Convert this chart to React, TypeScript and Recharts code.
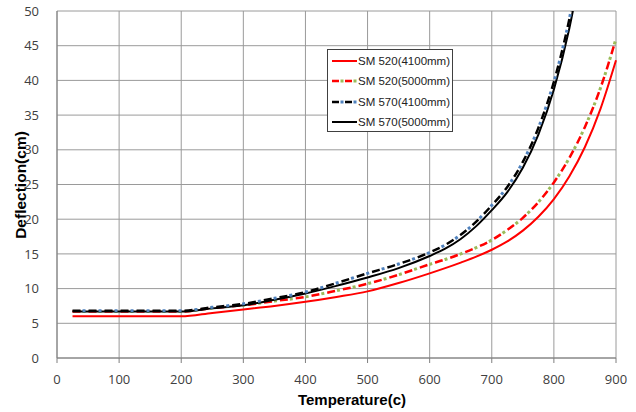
import React from 'react';
import { LineChart, Line, XAxis, YAxis, CartesianGrid } from 'recharts';

// Temperature (°C) vs deflection (cm).
const tempsSM520 = [25, 100, 200, 250, 300, 350, 400, 450, 500, 550, 600, 625, 650, 675, 700, 725, 750, 775, 800, 825, 850, 875, 900];
const sm520_4100 = [6.0, 6.0, 6.0, 6.5, 7.0, 7.5, 8.1, 8.8, 9.6, 10.8, 12.2, 12.95, 13.75, 14.6, 15.6, 16.8, 18.35, 20.35, 22.9, 26.2, 30.4, 35.9, 42.9];
const sm520_5000 = [6.7, 6.7, 6.7, 7.2, 7.6, 8.2, 8.8, 9.7, 10.7, 12.0, 13.5, 14.2, 15.0, 15.9, 17.0, 18.45, 20.2, 22.45, 25.3, 28.85, 33.3, 38.9, 46.0];

const tempsSM570 = [25, 100, 200, 250, 300, 350, 400, 450, 500, 550, 600, 625, 650, 675, 700, 725, 750, 775, 800, 825, 850];
const sm570_4100 = [6.8, 6.8, 6.8, 7.3, 7.8, 8.6, 9.5, 10.8, 12.2, 13.55, 15.2, 16.3, 17.75, 19.65, 22.0, 24.65, 28.25, 33.15, 39.8, 48.9, 61.2];
const sm570_5000 = [6.7, 6.7, 6.7, 7.15, 7.6, 8.4, 9.3, 10.4, 11.6, 12.95, 14.7, 15.75, 17.15, 19.0, 21.3, 23.9, 27.4, 32.2, 38.7, 47.55, 59.6];

const xTicks = [0, 100, 200, 300, 400, 500, 600, 700, 800, 900];
const yTicks = [0, 5, 10, 15, 20, 25, 30, 35, 40, 45, 50];

const toPoints = (xs: number[], ys: number[]) => xs.map((t, i) => ({ t, v: ys[i] }));

const d1 = toPoints(tempsSM520, sm520_4100);
const d2 = toPoints(tempsSM520, sm520_5000);
const d3 = toPoints(tempsSM570, sm570_4100);
const d4 = toPoints(tempsSM570, sm570_5000);

const RED = '#ff0000';
const OLIVE = '#9bbb59';
const STEEL = '#4f81bd';
const BLACK = '#000000';

const legendItems = [
  { name: 'SM 520(4100mm)', main: RED, accent: null as string | null },
  { name: 'SM 520(5000mm)', main: RED, accent: OLIVE },
  { name: 'SM 570(4100mm)', main: BLACK, accent: STEEL },
  { name: 'SM 570(5000mm)', main: BLACK, accent: null as string | null },
];

const tickStyle = { fontSize: 13, fill: '#404040', fontFamily: '"Open Sans", "Noto Sans", sans-serif' };

function LegendBox() {
  return (
    <div
      style={{
        position: 'absolute',
        left: 327,
        top: 49,
        width: 124,
        height: 81,
        background: '#fff',
        border: '1px solid #404040',
        fontFamily: '"Liberation Sans", Arial, sans-serif',
        fontSize: 11.5,
        color: '#222',
      }}
    >
      {legendItems.map((it, i) => (
        <div key={it.name} style={{ position: 'absolute', left: 4, top: 1 + i * 20.3, height: 20, display: 'flex', alignItems: 'center' }}>
          <svg width={25} height={6} style={{ marginRight: 1 }}>
            {it.accent ? (
              <>
                <line x1={0} y1={3} x2={25} y2={3} stroke={it.main} strokeWidth={2.5} strokeDasharray="7 6" />
                <line x1={0} y1={3} x2={25} y2={3} stroke={it.accent} strokeWidth={3} strokeDasharray="0 8.5 3 1.5" />
              </>
            ) : (
              <line x1={0} y1={3} x2={25} y2={3} stroke={it.main} strokeWidth={2} />
            )}
          </svg>
          <span style={{ whiteSpace: 'nowrap' }}>{it.name}</span>
        </div>
      ))}
    </div>
  );
}

export default function App() {
  return (
    <div style={{ position: 'absolute', left: 0, top: 0, width: 636, height: 412, background: '#fff' }}>
      <LineChart width={636} height={412} margin={{ top: 11, right: 20, bottom: 0, left: 0 }}>
        <CartesianGrid stroke="#9a9a9a" strokeWidth={1} />
        <XAxis
          type="number"
          dataKey="t"
          domain={[0, 900]}
          ticks={xTicks}
          interval={0}
          height={54}
          tick={tickStyle}
          tickSize={5}
          tickMargin={12}
          stroke="#7f7f7f"
          label={{
            content: () => (
              <text x={352} y={405} textAnchor="middle" fontSize={15} fontWeight="bold" fill="#000" fontFamily='"Liberation Sans", Arial, sans-serif'>
                Temperature(c)
              </text>
            ),
          }}
        />
        <YAxis
          type="number"
          domain={[0, 50]}
          ticks={yTicks}
          interval={0}
          allowDataOverflow
          width={57}
          tick={tickStyle}
          tickLine={false}
          tickMargin={12}
          stroke="#7f7f7f"
          label={{
            content: () => (
              <text
                x={26}
                y={185}
                transform="rotate(-90 26 185)"
                textAnchor="middle"
                fontSize={15.5}
                fontWeight="bold"
                fill="#000"
                fontFamily='"Liberation Sans", Arial, sans-serif'
              >
                Deflection(cm)
              </text>
            ),
          }}
        />
        <Line data={d1} dataKey="v" name="SM 520(4100mm)" type="monotone" stroke={RED} strokeWidth={2} dot={false} isAnimationActive={false} />
        <Line data={d2} dataKey="v" name="SM 520(5000mm)" type="monotone" stroke={RED} strokeWidth={2.5} strokeDasharray="8 8" dot={false} isAnimationActive={false} />
        <Line data={d2} dataKey="v" name="SM 520(5000mm) dots" legendType="none" type="monotone" stroke={OLIVE} strokeWidth={3} strokeDasharray="0 10 3 3" dot={false} isAnimationActive={false} />
        <Line data={d4} dataKey="v" name="SM 570(5000mm)" type="monotone" stroke={BLACK} strokeWidth={2} dot={false} isAnimationActive={false} />
        <Line data={d3} dataKey="v" name="SM 570(4100mm)" type="monotone" stroke={BLACK} strokeWidth={2.5} strokeDasharray="8 8" dot={false} isAnimationActive={false} />
        <Line data={d3} dataKey="v" name="SM 570(4100mm) dots" legendType="none" type="monotone" stroke={STEEL} strokeWidth={3} strokeDasharray="0 10 3 3" dot={false} isAnimationActive={false} />
      </LineChart>
      <LegendBox />
    </div>
  );
}
